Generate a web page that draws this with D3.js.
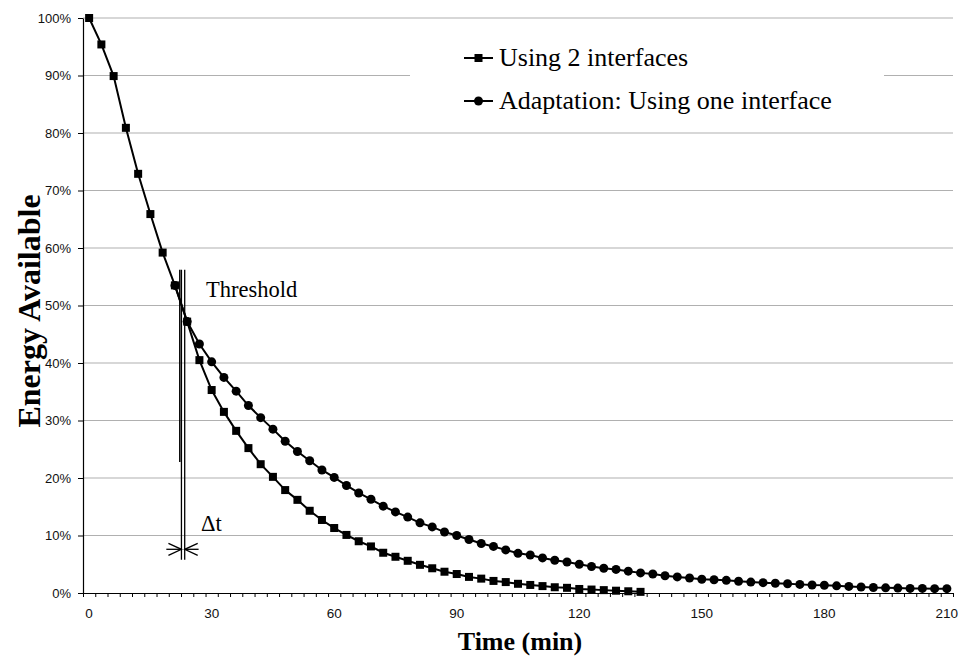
<!DOCTYPE html>
<html><head><meta charset="utf-8">
<script src="https://cdn.jsdelivr.net/npm/d3@7"></script>
<style>body{margin:0;background:#fff;}svg{display:block;}</style>
</head><body><svg id="chart" width="960" height="660"></svg>
<script>
// ---- data ----
const twoTimes = d3.range(0, 136, 3); // 0..135
const twoIface = [100, 95.4, 89.9, 80.9, 72.9, 65.9, 59.2, 53.5, 47.2, 40.5,
  35.3, 31.5, 28.2, 25.2, 22.4, 20.2, 17.9, 16.2, 14.3, 12.7,
  11.3, 10.1, 9.0, 8.1, 7.0, 6.3, 5.6, 4.9, 4.3, 3.7,
  3.3, 2.8, 2.5, 2.1, 1.9, 1.6, 1.4, 1.2, 1.0, 0.9,
  0.7, 0.6, 0.5, 0.4, 0.3, 0.2];
const adaptTimes = d3.range(21, 211, 3); // 21..210
const adaptOne = [53.5, 47.2, 43.3, 40.2, 37.5, 35.1, 32.6, 30.5, 28.5, 26.4,
  24.6, 23.0, 21.4, 20.1, 18.7, 17.4, 16.3, 15.1, 14.1, 13.2,
  12.2, 11.5, 10.6, 10.0, 9.3, 8.6, 8.1, 7.5, 6.9, 6.6,
  6.1, 5.7, 5.4, 5.0, 4.6, 4.3, 4.1, 3.8, 3.5, 3.3,
  3.0, 2.8, 2.6, 2.4, 2.3, 2.2, 2.05, 1.9, 1.8, 1.7,
  1.6, 1.5, 1.4, 1.35, 1.25, 1.15, 1.05, 0.95, 0.9, 0.85,
  0.8, 0.8, 0.75, 0.75];
const seriesNames = ["Using 2 interfaces", "Adaptation: Using one interface"];
const yTickValues = [0,10,20,30,40,50,60,70,80,90,100];
const xLabelValues = [0,30,60,90,120,150,180,210];
const thresholdLabel = "Threshold";
const deltaLabel = "\u0394t";
// annotation positions in data units (minutes, percent)
const thrShort = {t:22.2, top:56.2, bottom:22.8};
const thrLines = [{t:22.6, top:56.2, bottom:5.8},{t:23.4, top:56.2, bottom:5.8}];
const arrowLevel = 7.6, arrowFrom = 18.9, arrowTo = 26.8;

// ---- scales ----
const svg = d3.select("#chart");
const x = d3.scaleLinear().domain([-1.5, 211.5]).range([83, 953]);
const y = d3.scaleLinear().domain([0, 100]).range([593, 18]);

// gridlines
svg.append("g").selectAll("line").data(yTickValues.filter(d=>d>0)).join("line")
  .attr("x1", x(-1.5)).attr("x2", x(211.5))
  .attr("y1", d=>y(d)).attr("y2", d=>y(d))
  .attr("stroke", "#b0b0b0").attr("stroke-width", 1.2);

// legend background (white box covering grid)
svg.append("rect").attr("x", 410).attr("y", 30).attr("width", 474).attr("height", 92).attr("fill", "#fff");

// y axis
const yAxis = svg.append("g").attr("transform", `translate(${x(-1.5)},0)`)
  .call(d3.axisLeft(y).tickValues(yTickValues).tickFormat(d=>d+"%").tickSize(5).tickSizeOuter(0).tickPadding(7));
yAxis.selectAll("text").attr("font-family","'Liberation Sans', Arial, sans-serif").attr("font-size", 13).attr("fill","#111");
yAxis.select(".domain").attr("stroke","#000").attr("stroke-width",1.2);
yAxis.selectAll(".tick line").attr("stroke","#000");

// x axis
const xTicks = d3.range(0, 72).map(k => -1.5 + 3*k);
const xAxis = svg.append("g").attr("transform", `translate(0,${y(0)})`)
  .call(d3.axisBottom(x).tickValues(xTicks).tickFormat("").tickSize(4).tickSizeOuter(0));
xAxis.select(".domain").attr("stroke","#000").attr("stroke-width",1.2);
xAxis.selectAll(".tick line").attr("stroke","#000");
svg.append("g").selectAll("text").data(xLabelValues).join("text")
  .attr("x", d=>x(d)).attr("y", y(0)+25).attr("text-anchor","middle")
  .attr("font-family","'Liberation Sans', Arial, sans-serif").attr("font-size", 13.5).attr("fill","#111")
  .text(d=>d);

// axis titles
svg.append("text").attr("transform", `translate(40,311) rotate(-90)`)
  .attr("text-anchor","middle").attr("font-family","'Liberation Serif', 'Times New Roman', serif")
  .attr("font-weight","bold").attr("font-size", 32).text("Energy Available");
svg.append("text").attr("x", 520).attr("y", 650).attr("text-anchor","middle")
  .attr("font-family","'Liberation Serif', 'Times New Roman', serif")
  .attr("font-weight","bold").attr("font-size", 26).text("Time (min)");

// series data
const d1 = twoTimes.map((t,i)=>({t, v: twoIface[i]}));
const d2 = adaptTimes.map((t,i)=>({t, v: adaptOne[i]}));
const line = d3.line().x(d=>x(d.t)).y(d=>y(d.v));

svg.append("path").datum(d2).attr("d", line).attr("fill","none").attr("stroke","#000").attr("stroke-width",2);
svg.append("path").datum(d1).attr("d", line).attr("fill","none").attr("stroke","#000").attr("stroke-width",2);

svg.append("g").selectAll("rect").data(d1).join("rect")
  .attr("x", d=>x(d.t)-4).attr("y", d=>y(d.v)-4).attr("width",8).attr("height",8).attr("fill","#000");
svg.append("g").selectAll("circle").data(d2).join("circle")
  .attr("cx", d=>x(d.t)).attr("cy", d=>y(d.v)).attr("r",4.5).attr("fill","#000");

// threshold annotation
svg.append("line").attr("x1", x(thrShort.t)).attr("x2", x(thrShort.t))
  .attr("y1", y(thrShort.top)).attr("y2", y(thrShort.bottom)).attr("stroke","#000").attr("stroke-width",1.5);
svg.append("g").selectAll("line").data(thrLines).join("line")
  .attr("x1", d=>x(d.t)).attr("x2", d=>x(d.t)).attr("y1", d=>y(d.top)).attr("y2", d=>y(d.bottom))
  .attr("stroke","#000").attr("stroke-width",1.3);
svg.append("text").attr("x", x(28.6)).attr("y", y(51.4))
  .attr("font-family","'Liberation Serif', 'Times New Roman', serif").attr("font-size", 22.5).text(thresholdLabel);

// delta-t arrows
const ay = y(arrowLevel);
const xa = x(thrLines[0].t), xb = x(thrLines[1].t);
const ag = svg.append("g").attr("stroke","#000").attr("stroke-width",1.3).attr("fill","none");
ag.append("line").attr("x1", x(arrowFrom)).attr("x2", xa).attr("y1", ay).attr("y2", ay);
ag.append("line").attr("x1", x(arrowTo)).attr("x2", xb).attr("y1", ay).attr("y2", ay);
ag.append("path").attr("d", `M${xa-13},${ay-6}L${xa},${ay}L${xa-13},${ay+6}`);
ag.append("path").attr("d", `M${xb+13},${ay-6}L${xb},${ay}L${xb+13},${ay+6}`);
svg.append("text").attr("x", x(27.4)).attr("y", y(10.8))
  .attr("font-family","'Liberation Serif', 'Times New Roman', serif").attr("font-size", 22.5).text(deltaLabel);

// legend
const legY = [58, 101];
const lg = svg.append("g");
seriesNames.forEach((name, i) => {
  const cy = legY[i];
  lg.append("line").attr("x1", 464).attr("x2", 493).attr("y1", cy).attr("y2", cy).attr("stroke","#000").attr("stroke-width",2);
  if (i === 0) lg.append("rect").attr("x", 474.5).attr("y", cy-4).attr("width",8).attr("height",8).attr("fill","#000");
  else lg.append("circle").attr("cx", 478.5).attr("cy", cy).attr("r",4.5).attr("fill","#000");
  lg.append("text").attr("x", 499).attr("y", cy+8)
    .attr("font-family","'Liberation Serif', 'Times New Roman', serif").attr("font-size", 26).text(name);
});
</script>
</body></html>
